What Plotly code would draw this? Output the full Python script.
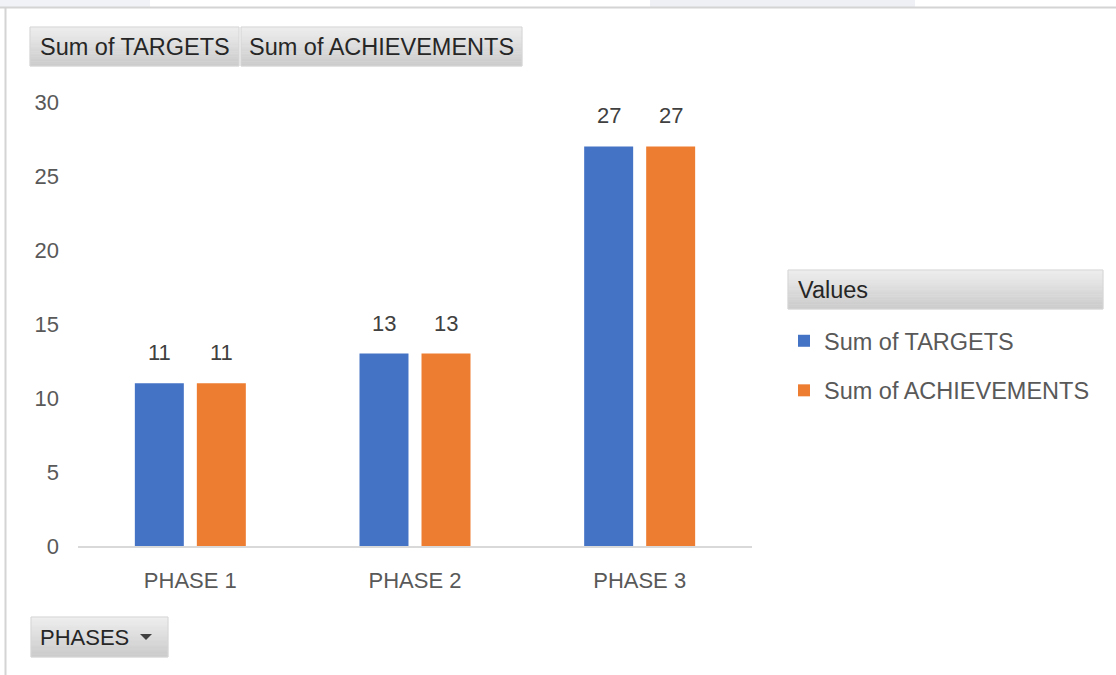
import plotly.graph_objects as go

phases = ["PHASE 1", "PHASE 2", "PHASE 3"]
targets = [11, 13, 27]
achievements = [11, 13, 27]
series_names = ["Sum of TARGETS", "Sum of ACHIEVEMENTS"]
colors = ["#4472C4", "#ED7D31"]
y_ticks = [0, 5, 10, 15, 20, 25, 30]

W, H = 1116, 675
L, R, T, B = 78, 752, 102, 546
FONT = "Liberation Sans"
FS = 22
FS2 = 23.5

BARGAP = 0.448
BARGROUPGAP = 0.21


def px(x):
    return (x - L) / (R - L)


def py(y):
    return (B - y) / (B - T)


fig = go.Figure()
for i, (name, vals) in enumerate(zip(series_names, [targets, achievements])):
    fig.add_trace(go.Bar(
        x=phases, y=vals, name=name, marker_color=colors[i],
        marker_line_width=0, legendgroup=name,
    ))

shapes = []
annotations = []

# data labels above bars
slot = (1 - BARGAP) / 2
for i, vals in enumerate([targets, achievements]):
    off = (i - 0.5) * slot
    for j, v in enumerate(vals):
        annotations.append(dict(
            x=j + off, y=v, xref="x", yref="y", text=str(v), showarrow=False,
            xanchor="center", yanchor="bottom", yshift=16,
            font=dict(family=FONT, size=FS, color="#404040"),
        ))

# frame / screenshot edges
shapes.append(dict(type="rect", xref="paper", yref="paper", x0=px(650), x1=px(915), y0=py(0), y1=py(7),
                   fillcolor="#eef0f5", line_width=0, layer="below"))
shapes.append(dict(type="rect", xref="paper", yref="paper", x0=px(0), x1=px(150), y0=py(0), y1=py(7),
                   fillcolor="#f1f2f7", line_width=0, layer="below"))
shapes.append(dict(type="line", xref="paper", yref="paper", x0=px(0), x1=px(W), y0=py(7.5), y1=py(7.5),
                   line=dict(color="#d4d4d4", width=2)))
shapes.append(dict(type="line", xref="paper", yref="paper", x0=px(5.5), x1=px(5.5), y0=py(7.5), y1=py(H),
                   line=dict(color="#d4d4d4", width=2)))


def button(x0, x1, y0, y1):
    n = 16
    top = (238, 238, 238)
    bot = (204, 204, 204)
    for k in range(n):
        t = k / (n - 1)
        c = tuple(int(top[m] + (bot[m] - top[m]) * t) for m in range(3))
        ya = y0 + (y1 - y0) * k / n
        yb = y0 + (y1 - y0) * (k + 1) / n
        shapes.append(dict(type="rect", xref="paper", yref="paper", x0=px(x0), x1=px(x1),
                           y0=py(ya), y1=py(yb), fillcolor="rgb(%d,%d,%d)" % c,
                           line=dict(color="rgb(%d,%d,%d)" % c, width=0.6), layer="below"))
    shapes.append(dict(type="rect", xref="paper", yref="paper", x0=px(x0), x1=px(x1),
                       y0=py(y0), y1=py(y1), line=dict(color="#d6d6d6", width=1), layer="below"))


def label(x, y, text, anchor="center", size=FS2):
    annotations.append(dict(x=px(x), y=py(y), xref="paper", yref="paper", text=text,
                            xanchor=anchor, yanchor="middle", showarrow=False,
                            font=dict(family=FONT, size=size, color="#262626")))


# field buttons
button(30, 239, 27, 66)
button(241, 522, 27, 66)
label(134.5, 46.5, "Sum of TARGETS")
label(381.5, 46.5, "Sum of ACHIEVEMENTS")
button(31, 168, 617, 657)
label(38, 637, "PHASES", anchor="left", size=22)
shapes.append(dict(type="path", xref="paper", yref="paper",
                   path="M %f,%f L %f,%f L %f,%f Z" % (px(140), py(634), px(152), py(634), px(146), py(640)),
                   fillcolor="#404040", line_width=0))

# legend header
button(788, 1103, 270, 309)
label(796, 290, "Values", anchor="left")

fig.update_layout(
    width=W, height=H,
    margin=dict(l=L, r=W - R, t=T, b=H - B),
    paper_bgcolor="white", plot_bgcolor="white",
    bargap=BARGAP, bargroupgap=BARGROUPGAP,
    font=dict(family=FONT, size=FS, color="#595959"),
    xaxis=dict(showline=True, linecolor="#d9d9d9", linewidth=1.5, showgrid=False, ticks="",
               tickfont=dict(family=FONT, size=FS, color="#595959"), ticklabelstandoff=14),
    yaxis=dict(range=[0, 30], tickvals=y_ticks, showgrid=False, showline=False, zeroline=False,
               ticks="", tickfont=dict(family=FONT, size=FS, color="#595959"), ticklabelstandoff=18),
    legend=dict(x=px(784), y=py(319), xanchor="left", yanchor="top",
                font=dict(family=FONT, size=FS2, color="#595959"),
                traceorder="grouped", tracegroupgap=16, bgcolor="rgba(0,0,0,0)"),
    shapes=shapes, annotations=annotations,
)

fig.write_html("out.html", config={"displayModeBar": False},
               post_script="document.body.style.margin='0px';document.body.style.overflow='hidden';")
